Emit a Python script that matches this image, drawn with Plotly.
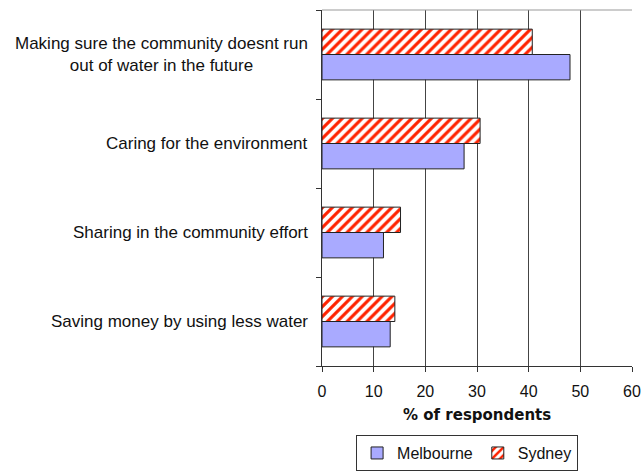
import plotly.graph_objects as go

categories = [
    "Saving money by using less water",
    "Sharing in the community effort",
    "Caring for the environment",
    "Making sure the community doesnt run<br>out of water in the future",
]
melbourne = [13.2, 11.9, 27.5, 48.0]
sydney = [14.1, 15.2, 30.6, 40.7]
x_ticks = [0, 10, 20, 30, 40, 50, 60]
x_title = "% of respondents"

FONT = "Liberation Sans, Arial, sans-serif"

fig = go.Figure()
fig.add_trace(go.Bar(
    y=categories, x=melbourne, orientation="h", name="Melbourne",
    marker=dict(color="#a9aaff", line=dict(color="#222222", width=1)),
))
fig.add_trace(go.Bar(
    y=categories, x=sydney, orientation="h", name="Sydney",
    marker=dict(color="white", line=dict(color="#222222", width=1),
                pattern=dict(shape="/", fgcolor="#ff2200", bgcolor="white",
                             fgopacity=1, size=7, solidity=0.45, fillmode="replace")),
))

for c in categories:
    fig.add_annotation(x=0, xref="paper", y=c, yref="y", text=c,
                       xanchor="right", xshift=-12, align="center",
                       showarrow=False, font=dict(size=17, color="#111111", family=FONT))

fig.add_annotation(x=0.5, xref="paper", y=0, yref="paper", yshift=-49,
                   text="<b>" + x_title + "</b>", showarrow=False,
                   xanchor="center", yanchor="middle",
                   font=dict(size=15, family="DejaVu Sans", color="#111111"))

fig.update_layout(
    width=643, height=476,
    margin=dict(l=322, r=11, t=10, b=110, autoexpand=False),
    paper_bgcolor="white", plot_bgcolor="white",
    barmode="group", bargap=0.43, bargroupgap=0,
    font=dict(family=FONT, size=16, color="#111111"),
    showlegend=True,
    legend=dict(orientation="h", x=0.468, xanchor="center", xref="paper",
                y=0.086, yanchor="top", yref="container",
                bordercolor="#333333", borderwidth=1,
                font=dict(size=16), tracegroupgap=0),
    xaxis=dict(range=[0, 60], tickvals=x_ticks, showgrid=True, gridcolor="#444444",
               gridwidth=1, zeroline=False, showline=True, linecolor="#333333",
               ticks="outside", ticklen=5, tickcolor="#333333", ticklabelstandoff=6,
               tickfont=dict(size=16), automargin=False),
    yaxis=dict(categoryorder="array", categoryarray=categories, showticklabels=False,
               ticks="outside", tickson="boundaries", ticklen=5, tickcolor="#333333",
               showline=True, linecolor="#333333", showgrid=False, automargin=False),
    shapes=[dict(type="line", xref="paper", yref="paper", x0=0, x1=1, y0=1, y1=1,
                 line=dict(color="#999999", width=1))],
)

fig.write_html("out.html")
